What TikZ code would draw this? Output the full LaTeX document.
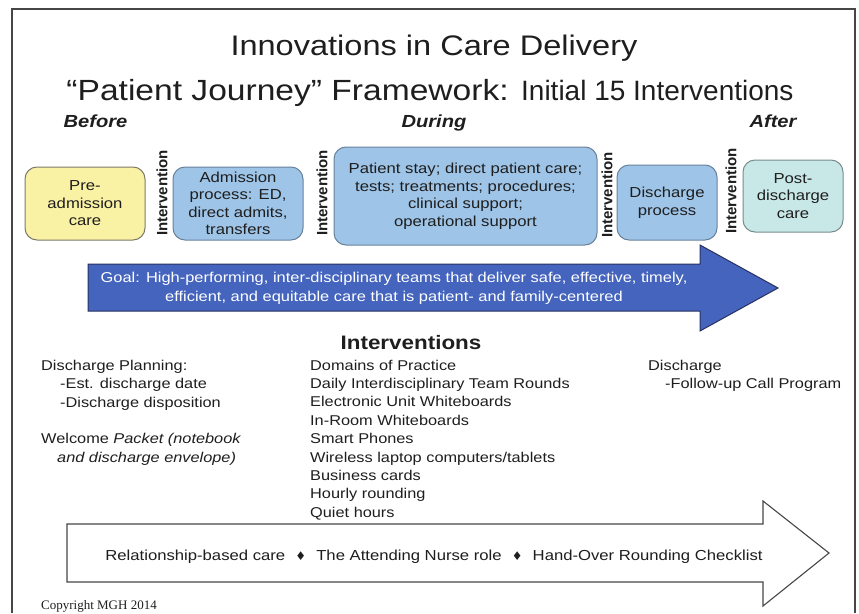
\documentclass[tikz,border=0pt]{standalone}
\usepackage{fontspec}
\setmainfont{Liberation Sans}[FakeStretch=1.15]
\newfontfamily\plainsans{Liberation Sans}
\newfontfamily\copyfont{Liberation Serif}
\newfontfamily\symfont{DejaVu Sans}
\definecolor{txt}{RGB}{30,30,30}
\definecolor{framec}{RGB}{70,70,70}
\definecolor{yelfill}{RGB}{249,241,164}
\definecolor{yeldraw}{RGB}{125,122,105}
\definecolor{bluefill}{RGB}{158,196,231}
\definecolor{bluedraw}{RGB}{105,130,155}
\definecolor{tealfill}{RGB}{200,232,231}
\definecolor{tealdraw}{RGB}{120,140,140}
\definecolor{goalfill}{RGB}{68,100,190}
\definecolor{goaldraw}{RGB}{40,50,95}
\begin{document}
\begin{tikzpicture}[x=1pt,y=-1pt,
  every node/.style={inner sep=0pt, text=txt},
  phase/.style={rounded corners=12pt, line width=1pt, align=center,
    font=\fontsize{14.5}{17.5}\selectfont},
  yelbox/.style={phase, fill=yelfill, draw=yeldraw},
  bluebox/.style={phase, fill=bluefill, draw=bluedraw},
  tealbox/.style={phase, fill=tealfill, draw=tealdraw},
  interv/.style={rotate=90, font=\plainsans\bfseries\fontsize{15}{18}\selectfont},
  stage/.style={anchor=base, font=\bfseries\itshape\fontsize{17.5}{20}\selectfont},
  body/.style={anchor=base west, font=\fontsize{14.2}{17.5}\selectfont},
  framestyle/.style={draw=framec, line width=1.2pt},
]
\useasboundingbox (0,0) rectangle (859,613);

% frame
\draw[framestyle] (12,613) -- (12,9) -- (855,9) -- (855,613);

% title
\node[anchor=base, font=\fontsize{28.3}{34}\selectfont] (t1) at (434,55) {Innovations in Care Delivery};
\node[anchor=base, font=\fontsize{29.2}{34}\selectfont] (t2) at (430,100)
  {“Patient Journey” Framework: {\plainsans\fontsize{28}{34}\selectfont Initial 15 Interventions}};

% stages
\node[stage] (before) at (95.5,127) {Before};
\node[stage] (during) at (434,127) {During};
\node[stage] (after) at (773,127) {After};

% phase boxes
\node[yelbox, minimum width=120pt, minimum height=73pt] (pre) at (85,203.5) {Pre-\\admission\\care};
\node[bluebox, minimum width=130pt, minimum height=73pt] (adm) at (238,203.5) {Admission\\process: ED,\\direct admits,\\transfers};
\node[bluebox, minimum width=263pt, minimum height=98pt] (stay) at (465.5,196)
  {Patient stay; direct patient care;\\tests; treatments; procedures;\\clinical support;\\operational support};
\node[bluebox, minimum width=100pt, minimum height=75pt] (dis) at (667,202.5) {Discharge\\process};
\node[tealbox, minimum width=100pt, minimum height=72pt] (post) at (793,196) {Post-\\discharge\\care};

% intervention labels
\node[interv] (i1) at (162,193) {Intervention};
\node[interv] (i2) at (322,193) {Intervention};
\node[interv] (i3) at (607,195) {Intervention};
\node[interv] (i4) at (731,191) {Intervention};

% goal arrow
\draw[fill=goalfill, draw=goaldraw, line width=1pt]
  (88,264) -- (700,264) -- (700,245) -- (778,288) -- (700,331) -- (700,311) -- (88,311) -- cycle;
\node[align=center, text=white, font=\fontsize{14.3}{19}\selectfont] (goal) at (394,288)
  {Goal: High-performing, inter-disciplinary teams that deliver safe, effective, timely,\\
   efficient, and equitable care that is patient- and family-centered};

% interventions heading
\node[anchor=base, font=\bfseries\fontsize{19.5}{22}\selectfont] (ihead) at (411,349) {Interventions};

% left column
\node[body] (l1) at (41,370) {Discharge Planning:};
\node[body] (l2) at (60,388) {-Est. discharge date};
\node[body] (l3) at (60,407) {-Discharge disposition};
\node[body] (l4) at (41,443) {Welcome \textit{Packet (notebook}};
\node[body] (l5) at (57,462) {\textit{and discharge envelope)}};

% middle column
\foreach \t [count=\i] in {Domains of Practice, Daily Interdisciplinary Team Rounds,
  Electronic Unit Whiteboards, In-Room Whiteboards, Smart Phones,
  Wireless laptop computers/tablets, Business cards, Hourly rounding, Quiet hours}
  \node[body] (m\i) at (310,{370+18.4*(\i-1)}) {\t};

% right column
\node[body] (r1) at (648,370) {Discharge};
\node[body] (r2) at (665,388) {-Follow-up Call Program};

% bottom arrow
\draw[draw=framec, line width=1.1pt, fill=white]
  (67,524) -- (763,524) -- (763,501) -- (829,553) -- (763,606) -- (763,582) -- (67,582) -- cycle;
\node[anchor=base, font=\fontsize{14.5}{18}\selectfont] (base) at (434,560)
  {Relationship-based care\hspace{0.7em}{\symfont\fontsize{12}{14}\selectfont ♦}\hspace{0.7em}The Attending Nurse role\hspace{0.7em}{\symfont\fontsize{12}{14}\selectfont ♦}\hspace{0.7em}Hand-Over Rounding Checklist};

% copyright
\node[anchor=base west, font=\copyfont\fontsize{13}{15}\selectfont] (copy) at (41,609) {Copyright MGH 2014};
\end{tikzpicture}
\end{document}
